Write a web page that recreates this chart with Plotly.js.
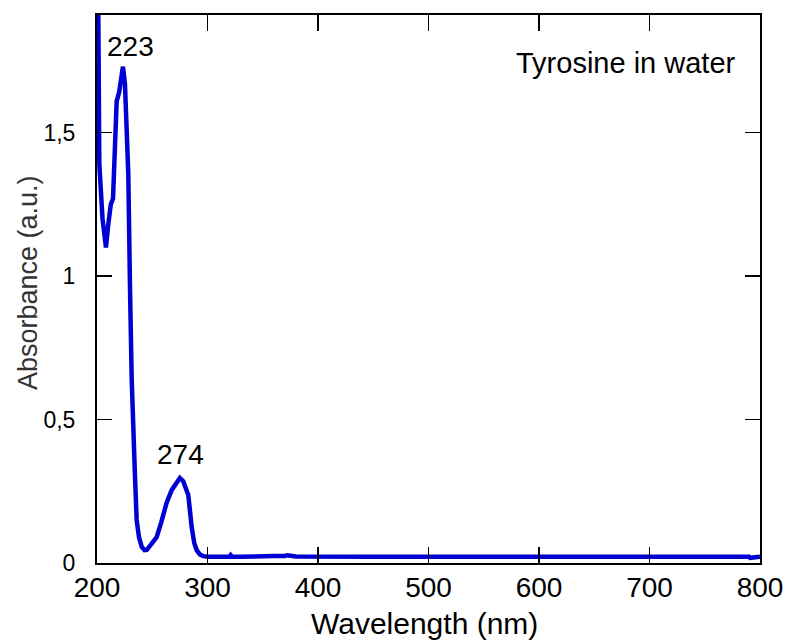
<!DOCTYPE html>
<html>
<head>
<meta charset="utf-8">
<script src="https://cdn.plot.ly/plotly-3.0.1.min.js"></script>
<style>html,body{margin:0;padding:0;background:#fff;}</style>
</head>
<body>
<div id="chart" style="width:791px;height:643px;"></div>
<script>
const wavelength = [200, 200.6, 201.3, 202.1, 205, 208.1, 210.2, 212.5, 214.5, 216, 217.8, 220, 222.4, 223.5, 225.3, 228.3, 229.9, 231.4, 234.4, 235.9, 238, 240.5, 243, 245, 249, 254, 258, 263, 267.6, 271, 275, 278, 281, 282.6, 285.7, 288, 290.2, 293, 296.2, 300, 310, 320, 321, 322, 330, 350, 352, 360, 370, 372, 380, 400, 450, 500, 550, 600, 650, 700, 750, 790, 791, 800];
const absorbance = [2.6, 2.2, 1.7, 1.39, 1.2, 1.10, 1.18, 1.25, 1.27, 1.41, 1.61, 1.64, 1.72, 1.73, 1.67, 1.36, 0.95, 0.64, 0.30, 0.15, 0.09, 0.056, 0.045, 0.046, 0.065, 0.09, 0.14, 0.21, 0.254, 0.275, 0.296, 0.285, 0.255, 0.237, 0.125, 0.07, 0.045, 0.03, 0.024, 0.022, 0.022, 0.022, 0.027, 0.022, 0.022, 0.024, 0.027, 0.024, 0.024, 0.027, 0.023, 0.022, 0.022, 0.022, 0.022, 0.022, 0.022, 0.022, 0.022, 0.022, 0.018, 0.022];
const xTicks = [200, 300, 400, 500, 600, 700, 800];
const yTicks = [0, 0.5, 1, 1.5];
const yTickText = ["0", "0,5", "1", "1,5"];
const peakLabels = [{x: 223, y: 1.73, text: "223"}, {x: 274, y: 0.296, text: "274"}];
const sampleLabel = "Tyrosine in water";
const xTitle = "Wavelength (nm)";
const yTitle = "Absorbance (a.u.)";

const FONT = "Arial, 'Liberation Sans', sans-serif";

const trace = {
  x: wavelength, y: absorbance, type: 'scatter', mode: 'lines',
  line: {color: '#0000d2', width: 4.5}, hoverinfo: 'none'
};

const peakShift = [{dx: 8, dy: 20}, {dx: 2, dy: 24}];
const annotations = peakLabels.map((p, i) => ({
  x: p.x, y: p.y, xref: 'x', yref: 'y', text: p.text, showarrow: false,
  xanchor: 'center', yanchor: 'middle', xshift: peakShift[i].dx, yshift: peakShift[i].dy,
  font: {family: FONT, size: 28, color: '#000'}
}));
annotations.push({
  x: 0.798, y: 0.912, xref: 'paper', yref: 'paper', text: sampleLabel, showarrow: false,
  xanchor: 'center', yanchor: 'middle', font: {family: FONT, size: 29, color: '#000'}
});
annotations.push({
  x: 424, y: 623, xref: 'paper', yref: 'paper', text: xTitle, showarrow: false,
  xanchor: 'center', yanchor: 'middle', font: {family: FONT, size: 30, color: '#000'}
});
annotations.push({
  x: 28, y: 283, xref: 'paper', yref: 'paper', text: yTitle, showarrow: false, textangle: -90,
  xanchor: 'center', yanchor: 'middle', font: {family: FONT, size: 27, color: '#333'}
});
// convert pixel positions of the axis titles to paper coordinates
const L = 97, R = 31, T = 15, B = 80, W = 791, H = 643;
annotations.slice(-2).forEach(a => {
  a.x = (a.x - L) / (W - L - R);
  a.y = (H - B - a.y) / (H - T - B);
});

const layout = {
  width: W, height: H,
  margin: {l: L, r: R, t: T, b: B},
  paper_bgcolor: '#fff', plot_bgcolor: '#fff',
  showlegend: false,
  font: {family: FONT, color: '#000'},
  xaxis: {
    range: [200, 800], tickvals: xTicks, ticks: 'inside', ticklen: 16, tickwidth: 1.5,
    tickcolor: '#000', showline: true, linecolor: '#000', linewidth: 2, mirror: 'ticks',
    showgrid: false, zeroline: false, tickfont: {family: FONT, size: 28}, ticklabelstandoff: -2
  },
  yaxis: {
    range: [0, 1.91], tickvals: yTicks, ticktext: yTickText, ticks: 'inside', ticklen: 15, tickwidth: 1.5,
    tickcolor: '#000', showline: true, linecolor: '#000', linewidth: 2, mirror: 'ticks',
    showgrid: false, zeroline: false, tickfont: {family: FONT, size: 23}, ticklabelstandoff: 15
  },
  annotations: annotations
};

Plotly.newPlot('chart', [trace], layout, {displayModeBar: false, staticPlot: true});
</script>
</body>
</html>
